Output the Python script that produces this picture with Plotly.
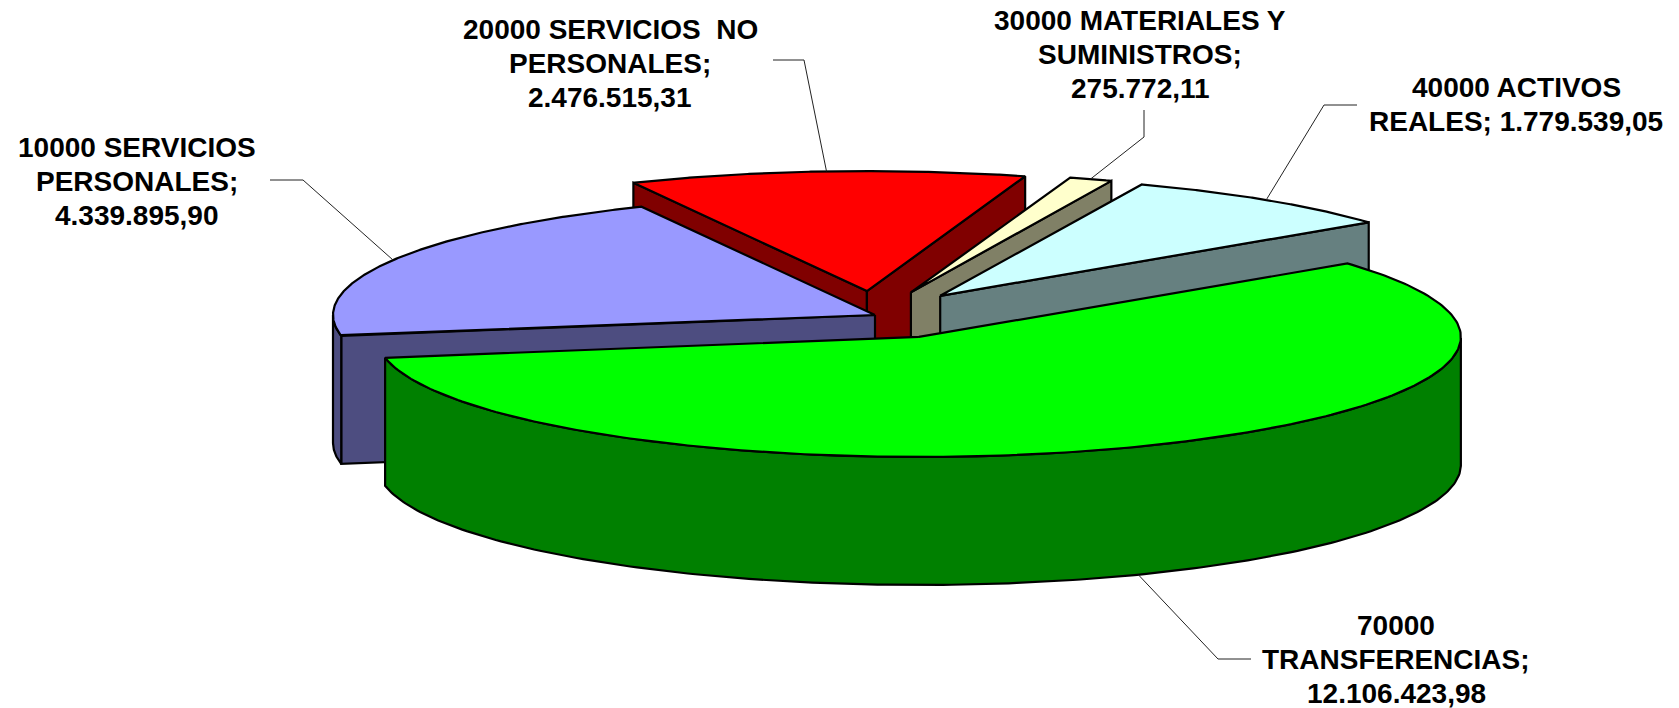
import math
import numpy as np
import plotly.graph_objects as go

# ---- data (clockwise from the first slice) ----
categories = ["10000 SERVICIOS PERSONALES", "20000 SERVICIOS  NO PERSONALES",
              "30000 MATERIALES Y SUMINISTROS", "40000 ACTIVOS REALES",
              "70000 TRANSFERENCIAS"]
values = [4339895.90, 2476515.31, 275772.11, 1779539.05, 12106423.98]
explode = [0.0, 0.2, 0.2, 0.2, 0.2]
top_colors = ["#9999FF", "#FF0000", "#FFFFCC", "#CCFFFF", "#00FF00"]
side_colors = ["#4D4D80", "#800000", "#808066", "#668080", "#008000"]
draw_order = [1, 2, 3, 0, 4]

# label wrapping: category text per line; the value joins the last or starts a new line
label_lines = [["10000 SERVICIOS", "PERSONALES;"],
               ["20000 SERVICIOS  NO", "PERSONALES;"],
               ["30000 MATERIALES Y", "SUMINISTROS;"],
               ["40000 ACTIVOS", "REALES;"],
               ["70000", "TRANSFERENCIAS;"]]
value_on_new_line = [True, True, True, False, True]

# ---- layout constants ----
W, H = 1679, 708
CX, CY = 875, 315      # pie centre
RX, RY = 542, 120      # top ellipse radii
DEPTH = 128            # pie thickness
START_DEG = 190.0      # math angle where first slice starts, running clockwise
FONT_SIZE = 28
LINE_PITCH = 34
label_pos = [(137, 147), (610, 29), (1140, 20), (1516, 87), (1396, 625)]  # centre x, first-line y
leader_via = [[(270, 180), (303, 180)], [(773, 60), (804, 60)], [(1144, 110), (1144, 137)],
              [(1357, 105), (1324, 105)], [(1251, 659), (1218, 659)]]


def es_number(v):
    return f"{v:,.2f}".replace(",", "X").replace(".", ",").replace("X", ".")


def pt(apex, deg, dz=0.0):
    a = math.radians(deg)
    return apex[0] + RX * math.cos(a), apex[1] - RY * math.sin(a) + dz


total = sum(values)
slices = []
angle = START_DEG
for i, v in enumerate(values):
    a0, a1 = angle, angle - 360.0 * v / total
    mid = math.radians((a0 + a1) / 2)
    apex = (CX + explode[i] * RX * math.cos(mid), CY - explode[i] * RY * math.sin(mid))
    slices.append((a0, a1, apex))
    angle = a1

fig = go.Figure()


def poly(points, fill, width=2.2):
    xs = [p[0] for p in points] + [points[0][0]]
    ys = [p[1] for p in points] + [points[0][1]]
    fig.add_trace(go.Scatter(x=xs, y=ys, mode="lines", fill="toself", fillcolor=fill,
                             line=dict(color="black", width=width), hoverinfo="skip",
                             showlegend=False))


for i in draw_order:
    a0, a1, apex = slices[i]
    # radial walls facing the viewer
    for deg, visible in ((a0, math.cos(math.radians(a0)) < 0), (a1, math.cos(math.radians(a1)) > 0)):
        if visible:
            poly([pt(apex, deg, 0) if False else apex, pt(apex, deg),
                  pt(apex, deg, DEPTH), (apex[0], apex[1] + DEPTH)], side_colors[i])
    # outer wall (front half of the rim only)
    degs = np.linspace(a0, a1, 240)
    front = [d for d in degs if math.sin(math.radians(d)) <= 0]
    if front:
        poly([pt(apex, d) for d in front] + [pt(apex, d, DEPTH) for d in reversed(front)], side_colors[i])
    # top face
    poly([apex] + [pt(apex, d) for d in degs], top_colors[i])

# leader lines, anchored on each slice's rim at its bisector
for i, (a0, a1, apex) in enumerate(slices):
    mid = (a0 + a1) / 2
    anchor = pt(apex, mid, DEPTH if math.sin(math.radians(mid)) < 0 else 0)
    via = leader_via[i]
    fig.add_trace(go.Scatter(x=[via[0][0], via[1][0], anchor[0]], y=[via[0][1], via[1][1], anchor[1]],
                             mode="lines", line=dict(color="#222222", width=1),
                             hoverinfo="skip", showlegend=False))

# labels
annotations = []
for i, lines in enumerate(label_lines):
    txt = es_number(values[i])
    full = lines + [txt] if value_on_new_line[i] else lines[:-1] + [lines[-1] + " " + txt]
    for j, line in enumerate(full):
        annotations.append(dict(x=label_pos[i][0], y=label_pos[i][1] + j * LINE_PITCH, xref="x", yref="y",
                                text=f"<b>{line.replace('  ', '&nbsp; ')}</b>", showarrow=False,
                                xanchor="center", yanchor="middle",
                                font=dict(family="Liberation Sans", size=FONT_SIZE, color="black")))

fig.update_layout(width=W, height=H, margin=dict(l=0, r=0, t=0, b=0), autosize=False,
                  paper_bgcolor="white", plot_bgcolor="white", annotations=annotations,
                  xaxis=dict(range=[0, W], visible=False, fixedrange=True),
                  yaxis=dict(range=[H, 0], visible=False, fixedrange=True))
fig.write_html("out.html", config={"displayModeBar": False},
               post_script="document.body.style.margin='0';document.body.style.overflow='hidden';")
